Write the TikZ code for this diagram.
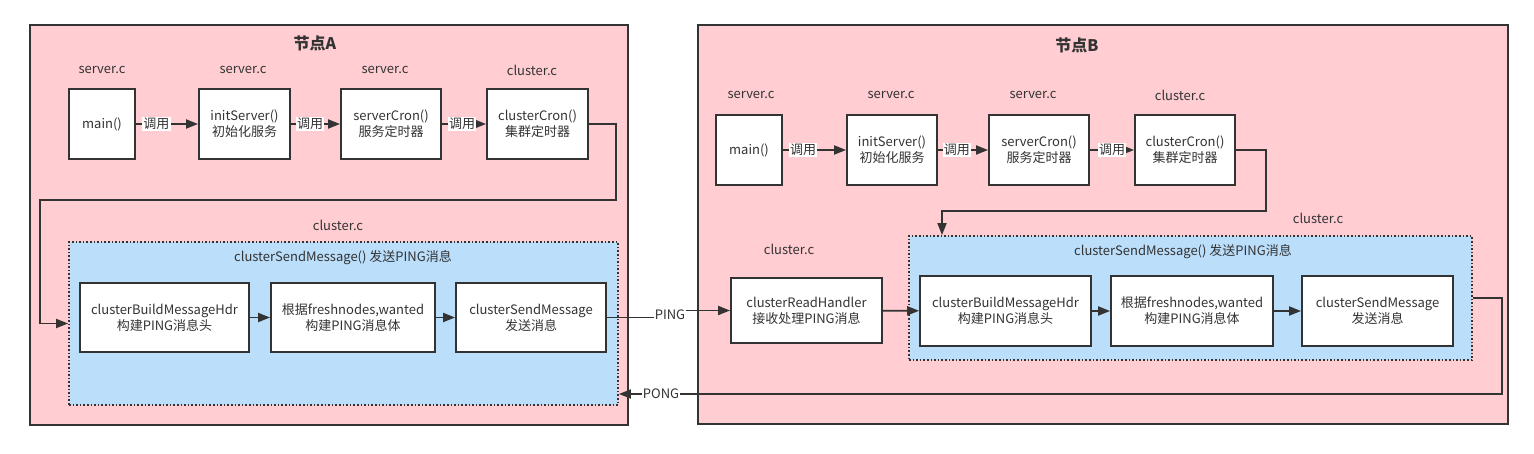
\documentclass[tikz,border=0pt]{standalone}
\usepackage{fontspec}
\setmainfont{Noto Sans CJK SC}
\usetikzlibrary{arrows.meta}
\definecolor{pinkbg}{RGB}{255,205,210}
\definecolor{bluebg}{RGB}{187,222,251}
\definecolor{ln}{RGB}{51,51,51}
\begin{document}
\begin{tikzpicture}[x=1pt,y=-1pt,
  txt/.style={font=\fontsize{13}{16}\selectfont, text=ln, inner sep=0pt},
  box/.style={draw=ln, line width=1.8pt, fill=white, inner sep=0pt, align=center, text=ln, font=\fontsize{13}{16}\selectfont},
  container/.style={draw=ln, line width=1.8pt, fill=pinkbg, inner sep=0pt},
  group/.style={draw=ln, line width=1.8pt, dash pattern=on 1.6pt off 2pt, fill=bluebg, inner sep=0pt},
  title/.style={font=\fontsize{16}{18}\selectfont\bfseries, text=ln, inner sep=0pt},
  arr/.style={draw=ln, line width=1.8pt, -{Triangle[length=12pt,width=9pt]}},
  lbl/.style={fill=white, inner sep=1.2pt, font=\fontsize{13}{16}\selectfont, text=ln},
  elbl/.style={fill=white, inner sep=1pt, font=\fontsize{13}{16}\selectfont, text=ln}
]
\useasboundingbox (0,0) rectangle (1534,454);
\fill[white] (0,0) rectangle (1534,454);

% ---------------- Node A ----------------
\node[container, minimum width=598, minimum height=400] (contA) at (329,225) {};
\node[title] (titleA) at (315,43) {节点A};

\node[txt] (fA1) at (102,70) {server.c};
\node[txt] (fA2) at (243,70) {server.c};
\node[txt] (fA3) at (385,70) {server.c};
\node[txt] (fA4) at (532,70) {cluster.c};

\node[box, minimum width=66, minimum height=70] (mainA) at (102,124) {main()};
\node[box, minimum width=91, minimum height=70] (initA) at (244.5,124) {initServer()\\初始化服务};
\node[box, minimum width=100, minimum height=70] (scronA) at (391,124) {serverCron()\\服务定时器};
\node[box, minimum width=101, minimum height=70] (ccronA) at (537.5,124) {clusterCron()\\集群定时器};

\node[txt] (fA5) at (338,225) {cluster.c};
\node[group, minimum width=549, minimum height=163] (blueA) at (343.5,323.5) {};
\node[txt] (gtA) at (343,258) {clusterSendMessage() 发送PING消息};

\node[box, minimum width=169, minimum height=69] (hdrA) at (164.5,317.5) {clusterBuildMessageHdr\\构建PING消息头};
\node[box, minimum width=164, minimum height=69] (bodyA) at (353,317.5) {根据freshnodes,wanted\\构建PING消息体};
\node[box, minimum width=150, minimum height=69] (sendA) at (531,317.5) {clusterSendMessage\\发送消息};

% ---------------- Node B ----------------
\node[container, minimum width=810, minimum height=399] (contB) at (1103,224.5) {};
\node[title] (titleB) at (1077,45) {节点B};

\node[txt] (fB1) at (751,95) {server.c};
\node[txt] (fB2) at (891,95) {server.c};
\node[txt] (fB3) at (1033,95) {server.c};
\node[txt] (fB4) at (1180,95) {cluster.c};

\node[box, minimum width=66, minimum height=70] (mainB) at (749,150) {main()};
\node[box, minimum width=90, minimum height=70] (initB) at (892,150) {initServer()\\初始化服务};
\node[box, minimum width=100, minimum height=70] (scronB) at (1039,150) {serverCron()\\服务定时器};
\node[box, minimum width=100, minimum height=70] (ccronB) at (1185,150) {clusterCron()\\集群定时器};

\node[txt] (fB5) at (1318,218) {cluster.c};
\node[txt] (fB6) at (789,249) {cluster.c};
\node[group, minimum width=563, minimum height=124] (blueB) at (1190.5,298) {};
\node[txt] (gtB) at (1183,252) {clusterSendMessage() 发送PING消息};

\node[box, minimum width=151, minimum height=65] (readB) at (806.5,310.5) {clusterReadHandler\\接收处理PING消息};
\node[box, minimum width=171, minimum height=70] (hdrB) at (1005.5,311) {clusterBuildMessageHdr\\构建PING消息头};
\node[box, minimum width=162, minimum height=70] (bodyB) at (1192,311) {根据freshnodes,wanted\\构建PING消息体};
\node[box, minimum width=151, minimum height=70] (sendB) at (1377.5,311) {clusterSendMessage\\发送消息};

% ---------------- Connectors A ----------------
\draw[arr] (mainA) -- node[lbl, pos=0.33] {调用} (initA);
\draw[arr] (initA) -- node[lbl, pos=0.39] {调用} (scronA);
\draw[arr] (scronA) -- node[lbl, pos=0.46] {调用} (ccronA);
\coordinate (loopA1) at (616,200);
\coordinate (loopA2) at (40,200);
\draw[arr] (ccronA.east) -| (loopA1) -- (loopA2) |- (blueA.west);
\draw[arr] (hdrA) -- (bodyA);
\draw[arr] (bodyA) -- (sendA);

% ---------------- Connectors B ----------------
\draw[arr] (mainB) -- node[lbl, pos=0.32] {调用} (initB);
\draw[arr] (initB) -- node[lbl, pos=0.38] {调用} (scronB);
\draw[arr] (scronB) -- node[lbl, pos=0.5] {调用} (ccronB);
\coordinate (loopB1) at (1266,211);
\coordinate (loopB2) at (942,211);
\draw[arr] (ccronB.east) -| (loopB1) -- (loopB2) -- (loopB2 |- blueB.north);
\draw[arr] (readB) -- (hdrB);
\draw[arr] (hdrB) -- (bodyB);
\draw[arr] (bodyB) -- (sendB);

% ---------------- PING / PONG ----------------
\coordinate (pingJ) at (670,317.5);
\draw[arr] (sendA.east) -- (pingJ) |- (readB.west);
\node[elbl] (pingL) at (670,315) {PING};
\coordinate (pongT) at (1502,394);
\draw[arr] (blueB.east) -| (pongT) -- (blueA.east |- pongT);
\node[elbl] (pongL) at (661,394) {PONG};
\end{tikzpicture}
\end{document}
